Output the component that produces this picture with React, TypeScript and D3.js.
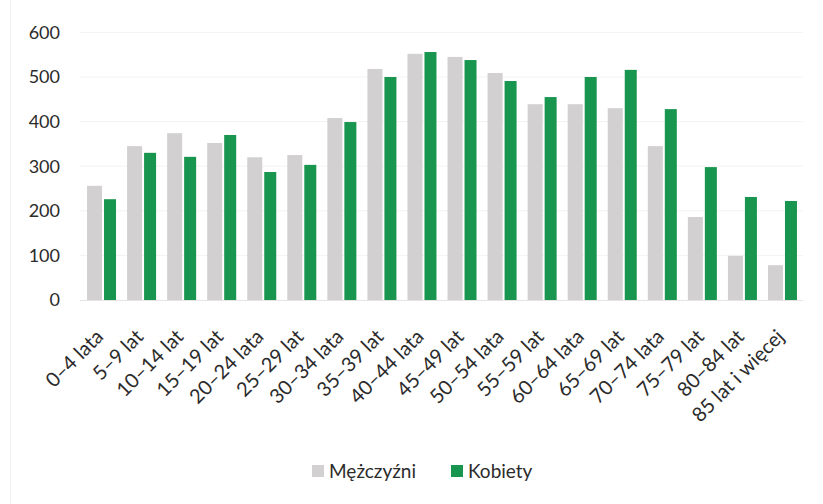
import React, { useEffect, useRef } from 'react';
import * as d3 from 'd3';

const categories = [
  '0–4 lata', '5–9 lat', '10–14 lat', '15–19 lat', '20–24 lata', '25–29 lat',
  '30–34 lata', '35–39 lat', '40–44 lata', '45–49 lat', '50–54 lata', '55–59 lat',
  '60–64 lata', '65–69 lat', '70–74 lata', '75–79 lat', '80–84 lat', '85 lat i więcej',
];
const men = [256, 345, 374, 352, 320, 325, 408, 518, 552, 545, 509, 439, 439, 430, 345, 186, 99, 78];
const women = [226, 330, 321, 370, 287, 303, 399, 500, 556, 538, 491, 455, 500, 516, 428, 298, 231, 222];
const yTicks = [0, 100, 200, 300, 400, 500, 600];
const seriesNames = ['Mężczyźni', 'Kobiety'];

const GRAY = '#d2d0d0';
const GREEN = '#18954f';
const FONT = 'Lato, "Open Sans", sans-serif';

const App = () => {
  const svgRef = useRef<SVGSVGElement>(null);

  useEffect(() => {
    const svg = d3.select(svgRef.current);
    svg.selectAll('*').remove();

    const x = d3
      .scaleBand()
      .domain(categories)
      .range([81.5, 802.5])
      .paddingInner(0.276)
      .paddingOuter(0.138);

    const y = d3.scaleLinear().domain([0, 600]).range([300, 32.4]);

    const g = svg.append('g');

    // faint frame line on the left
    g.append('line')
      .attr('x1', 10.5).attr('x2', 10.5)
      .attr('y1', 0).attr('y2', 504)
      .attr('stroke', '#f0f0f0');

    // gridlines
    g.selectAll('.grid')
      .data(yTicks.slice(1))
      .enter()
      .append('line')
      .attr('x1', 80).attr('x2', 803)
      .attr('y1', (d) => y(d)).attr('y2', (d) => y(d))
      .attr('stroke', '#f3f3f3');

    // y labels
    g.selectAll('.ylab')
      .data(yTicks)
      .enter()
      .append('text')
      .attr('x', 60)
      .attr('y', (d) => y(d))
      .attr('dy', '0.36em')
      .attr('text-anchor', 'end')
      .attr('font-family', FONT)
      .attr('font-size', 18)
      .attr('fill', '#2b2b2b')
      .text((d) => d);

    // men bars
    g.selectAll('.men')
      .data(men)
      .enter()
      .append('rect')
      .attr('x', (_, i) => x(categories[i]) as number)
      .attr('y', (d) => y(d))
      .attr('width', 15)
      .attr('height', (d) => y(0) - y(d))
      .attr('fill', GRAY);

    // women bars
    g.selectAll('.women')
      .data(women)
      .enter()
      .append('rect')
      .attr('x', (_, i) => (x(categories[i]) as number) + 17)
      .attr('y', (d) => y(d))
      .attr('width', 12)
      .attr('height', (d) => y(0) - y(d))
      .attr('fill', GREEN);

    // baseline
    g.append('line')
      .attr('x1', 80).attr('x2', 803)
      .attr('y1', y(0) + 0.5).attr('y2', y(0) + 0.5)
      .attr('stroke', '#e4e4e4');

    // x labels
    g.selectAll('.xlab')
      .data(categories)
      .enter()
      .append('text')
      .attr('transform', (d) => {
        const cx = (x(d) as number) + x.bandwidth() / 2 + 3;
        return `translate(${cx}, 338) rotate(-45)`;
      })
      .attr('text-anchor', 'end')
      .attr('font-family', FONT)
      .attr('font-size', 20)
      .attr('fill', '#2b2b2b')
      .text((d) => d);

    // legend
    const legend = g.append('g').attr('transform', 'translate(312, 471)');
    const items = [
      { name: seriesNames[0], color: GRAY, x: 0 },
      { name: seriesNames[1], color: GREEN, x: 139 },
    ];
    const li = legend
      .selectAll('.item')
      .data(items)
      .enter()
      .append('g')
      .attr('transform', (d) => `translate(${d.x}, 0)`);
    li.append('rect')
      .attr('x', 0).attr('y', -6)
      .attr('width', 12).attr('height', 12)
      .attr('fill', (d) => d.color);
    li.append('text')
      .attr('x', 17)
      .attr('dy', '0.36em')
      .attr('font-family', FONT)
      .attr('font-size', 19)
      .attr('fill', '#2b2b2b')
      .text((d) => d.name);
  }, []);

  return (
    <svg
      ref={svgRef}
      width={823}
      height={504}
      style={{ position: 'absolute', left: 0, top: 0, background: '#fff' }}
    />
  );
};

export default App;
